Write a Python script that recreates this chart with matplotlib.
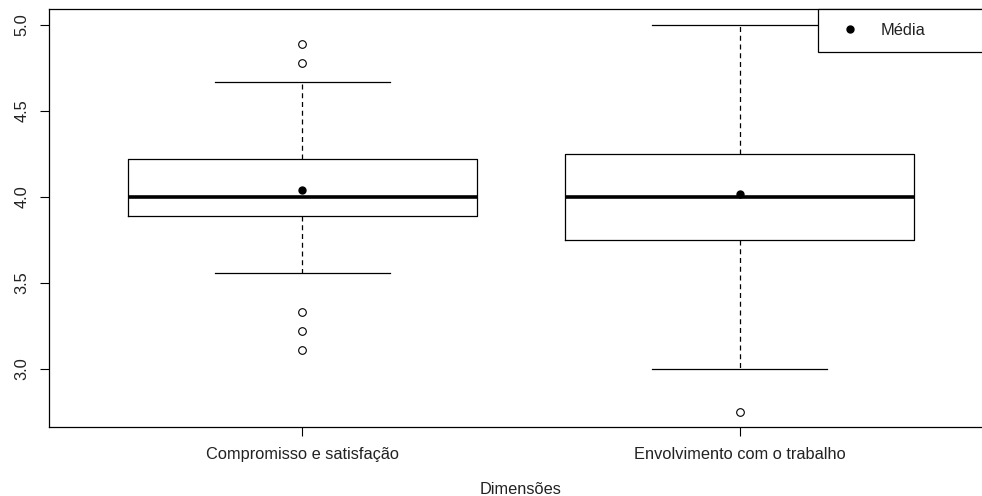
import matplotlib
matplotlib.use("Agg")
import matplotlib.pyplot as plt

plt.rcParams["font.family"] = ["Liberation Sans", "DejaVu Sans"]

# ------- data -------
categories = ["Compromisso e satisfação", "Envolvimento com o trabalho"]
q1 = [3.89, 3.75]
median = [4.00, 4.00]
q3 = [4.22, 4.25]
whisker_lo = [3.56, 3.00]
whisker_hi = [4.67, 5.00]
means = [4.04, 4.015]
outliers = [[4.89, 4.78, 3.33, 3.22, 3.11], [2.75]]
yticks = [3.0, 3.5, 4.0, 4.5, 5.0]

stats = [
    dict(label=c, q1=a, med=m, q3=b, whislo=lo, whishi=hi, mean=mu, fliers=f)
    for c, a, m, b, lo, hi, mu, f in zip(categories, q1, median, q3,
                                          whisker_lo, whisker_hi, means, outliers)
]

fig = plt.figure(figsize=(9.82, 4.96), dpi=100)
ax = fig.add_axes([49 / 982, 69 / 496, 944 / 982, 418 / 496])

ax.bxp(
    stats,
    positions=[1, 2],
    widths=0.8,
    capwidths=0.4,
    showmeans=True,
    boxprops=dict(color="black", linewidth=0.9),
    whiskerprops=dict(color="black", linewidth=0.9, linestyle=(0, (4, 3))),
    capprops=dict(color="black", linewidth=0.9),
    medianprops=dict(color="black", linewidth=2.6),
    meanprops=dict(marker="o", markerfacecolor="black", markeredgecolor="black",
                   markersize=5),
    flierprops=dict(marker="o", markerfacecolor="none", markeredgecolor="black",
                    markersize=5.5, markeredgewidth=0.8),
)

ax.set_xlim(0.42, 2.58)
ax.set_ylim(2.663, 5.093)

ax.set_yticks(yticks)
ax.set_yticklabels([f"{v:.1f}" for v in yticks], rotation=90, va="center")
ax.set_xticks([1, 2])
ax.set_xticklabels(categories)
ax.tick_params(axis="both", length=6.5, width=0.8, labelsize=11.8,
               colors="black", labelcolor="#222222")
ax.tick_params(axis="y", pad=7.5)
ax.tick_params(axis="x", pad=8)
ax.set_xlabel("Dimensões", fontsize=11.8, labelpad=14, color="#222222")

for s in ax.spines.values():
    s.set_linewidth(0.9)

# legend box in the top right, like R's legend("topright")
mean_handle = plt.Line2D([], [], marker="o", color="black", linestyle="none",
                         markersize=5)
leg = ax.legend([mean_handle], ["Média"], loc="upper left",
                bbox_to_anchor=(769 / 944, 0, 175 / 944, 1), mode="expand",
                borderaxespad=0, fancybox=False, edgecolor="black",
                framealpha=1, fontsize=11.8, borderpad=0.85,
                handlelength=2.2, handletextpad=0.8)
leg.get_frame().set_linewidth(0.9)
for t in leg.get_texts():
    t.set_color("#222222")

fig.savefig("out.png", dpi=100)
